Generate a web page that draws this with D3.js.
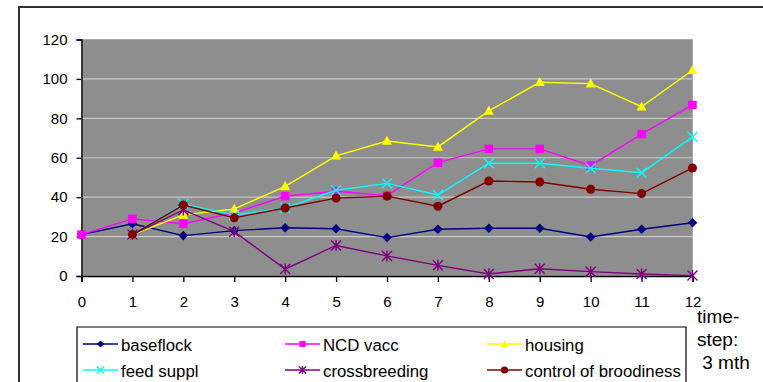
<!DOCTYPE html>
<html><head><meta charset="utf-8">
<script src="https://cdn.jsdelivr.net/npm/d3@7"></script>
<style>
body{margin:0;background:#fff;}
svg{display:block;font-family:"Liberation Sans",Arial,sans-serif;}
</style></head>
<body><svg id="c" width="763" height="382"></svg>
<script>
const timeSteps = [0,1,2,3,4,5,6,7,8,9,10,11,12];
const yTicks = [0,20,40,60,80,100,120];
const seriesNames = ["baseflock","NCD vacc","housing","feed suppl","crossbreeding","control of broodiness"];
const seriesColors = ["#000080","#ff00ff","#ffff00","#00ffff","#800080","#800000"];
const seriesMarkers = ["diamond","square","triangle","x","star","circle"];
const baseflock   = [21,26.5,20.5,23,24.5,24,19.5,23.7,24.2,24.2,19.8,23.7,27];
const ncdVacc     = [21,29,26.5,32,40.5,43,40.8,57.5,64.5,64.5,56,72,86.8];
const housing     = [null,21,31,34,45.5,61,68.5,65.5,83.8,98.3,97.6,85.9,104.4];
const feedSuppl   = [null,21,36.5,31,34.5,43.5,47,41.1,57.2,57.2,54.7,52.4,70.6];
const crossbreed  = [null,21,33.5,22.5,3.5,15.5,10.2,5.4,1,3.7,2.2,1,0.2];
const broodiness  = [null,21,36,29.5,34.5,39.5,40.5,35.4,48.2,47.7,44,41.8,54.8];
const seriesValues = [baseflock,ncdVacc,housing,feedSuppl,crossbreed,broodiness];
const axisNote = ["time-","step:"," 3 mth"];

const svg = d3.select("#c");
// outer frame
svg.append("path").attr("d","M19,383 V7 H764").attr("fill","none").attr("stroke","#333").attr("stroke-width",2);

const x = d3.scaleLinear().domain([0,12]).range([81.5,692.5]);
const y = d3.scaleLinear().domain([0,120]).range([276,39.5]);

// plot area
svg.append("rect").attr("x",x(0)).attr("y",y(120)).attr("width",x(12)-x(0)).attr("height",y(0)-y(120))
  .attr("fill","#8e8e8e").attr("stroke","#a8a8a8").attr("stroke-width",1);
// gridlines
svg.append("g").selectAll("line").data(yTicks.filter(d=>d>0 && d<120)).join("line")
  .attr("x1",x(0)).attr("x2",x(12)).attr("y1",d=>y(d)).attr("y2",d=>y(d))
  .attr("stroke","#c8c8c8").attr("stroke-width",1.2);

// axes
const yAxis = svg.append("g").attr("transform",`translate(${x(0)},0)`)
  .call(d3.axisLeft(y).tickValues(yTicks).tickSize(5).tickPadding(9));
const xAxis = svg.append("g").attr("transform",`translate(0,${y(0)})`)
  .call(d3.axisBottom(x).tickValues(timeSteps).tickSize(6).tickPadding(14));
[yAxis,xAxis].forEach(g=>{
  g.selectAll("path,line").attr("stroke","#000").attr("stroke-width",1.3);
  g.selectAll("text").attr("font-size",15).attr("fill","#000").attr("font-family","Liberation Sans, Arial, sans-serif");
});
xAxis.select(".domain").attr("stroke-width",1.6);

function marker(g, type, color, s){
  switch(type){
    case "diamond":
      g.append("path").attr("d",`M0,${-s}L${s},0L0,${s}L${-s},0Z`).attr("fill",color); break;
    case "square":
      g.append("rect").attr("x",-s*0.85).attr("y",-s*0.85).attr("width",s*1.7).attr("height",s*1.7).attr("fill",color); break;
    case "triangle":
      g.append("path").attr("d",`M0,${-s*1.1}L${s*1.05},${s*0.8}L${-s*1.05},${s*0.8}Z`).attr("fill",color); break;
    case "x":
      g.append("path").attr("d",`M${-s},${-s}L${s},${s}M${-s},${s}L${s},${-s}`).attr("stroke",color).attr("stroke-width",1.4); break;
    case "star":
      g.append("path").attr("d",`M${-s},${-s}L${s},${s}M${-s},${s}L${s},${-s}M0,${-s*1.1}V${s*1.1}`).attr("stroke",color).attr("stroke-width",1.4); break;
    case "circle":
      g.append("circle").attr("r",s).attr("fill",color); break;
  }
}

const markerSize = {diamond:4.8,square:5,triangle:4.8,x:5,star:5,circle:4.5};
const line = d3.line().defined(d=>d.v!=null).x(d=>x(d.t)).y(d=>y(d.v));
seriesValues.forEach((vals,i)=>{
  const pts = vals.map((v,j)=>({t:timeSteps[j],v}));
  const g = svg.append("g");
  g.append("path").datum(pts).attr("d",line).attr("fill","none").attr("stroke",seriesColors[i]).attr("stroke-width",1.4);
  pts.filter(d=>d.v!=null).forEach(d=>{
    const m = g.append("g").attr("transform",`translate(${x(d.t)},${y(d.v)})`);
    marker(m, seriesMarkers[i], seriesColors[i], markerSize[seriesMarkers[i]]);
  });
});

// legend
svg.append("path").attr("d","M77,384 V327 H686 V384").attr("fill","#fff").attr("stroke","#000").attr("stroke-width",1.2);
const colX = [83,285,487];
const rowY = [344,370];
seriesNames.forEach((n,i)=>{
  const cx = colX[i%3], cy = rowY[Math.floor(i/3)];
  const g = svg.append("g");
  g.append("line").attr("x1",cx).attr("x2",cx+35).attr("y1",cy).attr("y2",cy).attr("stroke",seriesColors[i]).attr("stroke-width",1.4);
  const m = g.append("g").attr("transform",`translate(${cx+17.5},${cy})`);
  marker(m, seriesMarkers[i], seriesColors[i], 3.6);
  g.append("text").attr("x",cx+38).attr("y",cy+6.5).attr("font-size",16.8).attr("fill","#000").text(n);
});

// axis note
svg.append("g").selectAll("text").data(axisNote).join("text")
  .attr("x",697).attr("y",(d,i)=>323+i*23).attr("font-size",19).attr("fill","#000")
  .attr("xml:space","preserve").style("white-space","pre").text(d=>d);
</script></body></html>
